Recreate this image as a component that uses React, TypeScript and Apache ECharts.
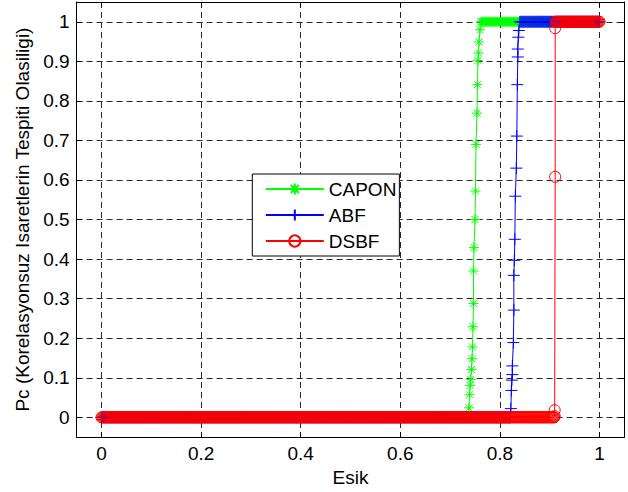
import React, { useEffect, useRef } from "react";
import * as echarts from "echarts";

// ---- data ----
const seriesNames = ["CAPON", "ABF", "DSBF"];
const seriesColors = ["#00ff00", "#0000ff", "#ff0000"];

const xTicks = [0, 0.2, 0.4, 0.6, 0.8, 1];
const yTicks = [0, 0.1, 0.2, 0.3, 0.4, 0.5, 0.6, 0.7, 0.8, 0.9, 1];

// threshold sweep step (x spacing of the flat plateaus at Pc = 0 and Pc = 1)
const sweepStep = 0.002;
const plateauLow = 0;
const plateauHigh = 1;
const sweepEnd = 1;

// rising parts (threshold, Pc)
const caponRiseX = [0.737, 0.738, 0.739, 0.740, 0.741, 0.743, 0.744, 0.745, 0.746, 0.747, 0.747, 0.748, 0.750, 0.751, 0.752, 0.754, 0.755, 0.756, 0.757, 0.758, 0.760, 0.762];
const caponRiseY = [0, 0.024, 0.057, 0.081, 0.096, 0.121, 0.148, 0.178, 0.229, 0.288, 0.370, 0.429, 0.500, 0.572, 0.690, 0.769, 0.841, 0.902, 0.921, 0.949, 0.980, 1];

const abfRiseX = [0.821, 0.822, 0.823, 0.824, 0.825, 0.825, 0.827, 0.828, 0.828, 0.829, 0.830, 0.831, 0.833, 0.834, 0.835, 0.836, 0.836, 0.837, 0.838, 0.840];
const abfRiseY = [0, 0.022, 0.068, 0.094, 0.108, 0.130, 0.189, 0.271, 0.359, 0.397, 0.450, 0.559, 0.630, 0.711, 0.841, 0.911, 0.931, 0.961, 0.978, 1];

const dsbfRiseX = [0.909, 0.910, 0.910, 0.911, 0.911, 0.912];
const dsbfRiseY = [0, 0.003, 0.018, 0.608, 0.984, 1];

function buildCurve(riseX: number[], riseY: number[]): number[][] {
  const pts: number[][] = [];
  const start = riseX[0];
  const end = riseX[riseX.length - 1];
  for (let i = 0; i * sweepStep < start - 1e-9; i++) {
    pts.push([+(i * sweepStep).toFixed(4), plateauLow]);
  }
  riseX.forEach((x, k) => pts.push([x, riseY[k]]));
  for (let i = Math.floor(end / sweepStep) + 1; i * sweepStep <= sweepEnd + 1e-9; i++) {
    pts.push([+(i * sweepStep).toFixed(4), plateauHigh]);
  }
  return pts;
}

const caponData = buildCurve(caponRiseX, caponRiseY);
const abfData = buildCurve(abfRiseX, abfRiseY);
const dsbfData = buildCurve(dsbfRiseX, dsbfRiseY);

const asteriskSymbol =
  "path://M0,5L10,5M5,0L5,10M1.5,1.5L8.5,8.5M1.5,8.5L8.5,1.5";
const plusSymbol = "path://M0,5L10,5M5,0L5,10";

const FONT = "'Liberation Sans', Arial, Helvetica, sans-serif";
const FS = 19;

export default function App() {
  const ref = useRef<HTMLDivElement>(null);

  useEffect(() => {
    if (!ref.current) return;
    const chart = echarts.init(ref.current, undefined, { renderer: "svg" });

    const axisCommon = {
      axisLine: { show: true, onZero: false, lineStyle: { color: "#000", width: 1 } },
    };

    const gridLine = {
      show: true,
      lineStyle: { color: "#262626", width: 1, type: [6, 4] as any },
    };

    const option: any = {
      animation: false,
      backgroundColor: "#ffffff",
      textStyle: { fontFamily: FONT },
      grid: { left: 76.6, right: 3.6, top: 2, bottom: 54.7, containLabel: false },
      legend: {
        data: seriesNames,
        orient: "vertical",
        left: 252.3,
        top: 174,
        itemWidth: 58,
        itemHeight: 14,
        itemGap: 7,
        padding: [5.5, 3, 5.5, 12.5],
        backgroundColor: "#ffffff",
        borderColor: "#000",
        borderWidth: 1,
        borderRadius: 0,
        textStyle: { fontSize: FS, color: "#000", fontFamily: FONT },
        selectedMode: false,
      },
      xAxis: [
        {
          type: "value",
          min: -0.05,
          max: 1.05,
          position: "bottom",
          name: "Esik",
          nameLocation: "middle",
          nameGap: 30,
          nameTextStyle: { fontSize: FS, color: "#000", fontFamily: FONT },
          ...axisCommon,
          axisTick: { show: true, inside: true, length: 5, customValues: xTicks, lineStyle: { color: "#000" } },
          axisLabel: {
            show: true,
            customValues: xTicks,
            margin: 7,
            fontSize: FS,
            color: "#000",
            fontFamily: FONT,
            formatter: (v: number) => String(Math.round(v * 10) / 10),
          },
          splitLine: gridLine,
        },
        {
          type: "value",
          min: -0.05,
          max: 1.05,
          position: "top",
          ...axisCommon,
          axisTick: { show: true, inside: true, length: 5, customValues: xTicks, lineStyle: { color: "#000" } },
          axisLabel: { show: false },
          splitLine: { show: false },
        },
      ],
      yAxis: [
        {
          type: "value",
          min: -0.05,
          max: 1.05,
          position: "left",
          name: "Pc (Korelasyonsuz Isaretlerin Tespiti Olasiligi)",
          nameLocation: "middle",
          nameGap: 42,
          nameRotate: 90,
          nameTextStyle: { fontSize: FS, color: "#000", fontFamily: FONT },
          ...axisCommon,
          axisTick: { show: true, inside: true, length: 5, customValues: yTicks, lineStyle: { color: "#000" } },
          axisLabel: {
            show: true,
            customValues: yTicks,
            margin: 7,
            fontSize: FS,
            color: "#000",
            fontFamily: FONT,
            formatter: (v: number) => String(Math.round(v * 10) / 10),
          },
          splitLine: gridLine,
        },
        {
          type: "value",
          min: -0.05,
          max: 1.05,
          position: "right",
          ...axisCommon,
          axisTick: { show: true, inside: true, length: 5, customValues: yTicks, lineStyle: { color: "#000" } },
          axisLabel: { show: false },
          splitLine: { show: false },
        },
      ],
      series: [
        {
          name: seriesNames[0],
          type: "line",
          data: caponData,
          xAxisIndex: 0,
          yAxisIndex: 0,
          symbol: asteriskSymbol,
          symbolSize: 10,
          showAllSymbol: true,
          lineStyle: { color: seriesColors[0], width: 1 },
          itemStyle: { color: seriesColors[0], borderColor: seriesColors[0], borderWidth: 1 },
          emphasis: { disabled: true },
        },
        {
          name: seriesNames[1],
          type: "line",
          data: abfData,
          xAxisIndex: 0,
          yAxisIndex: 0,
          symbol: plusSymbol,
          symbolSize: 12,
          showAllSymbol: true,
          lineStyle: { color: seriesColors[1], width: 1 },
          itemStyle: { color: seriesColors[1], borderColor: seriesColors[1], borderWidth: 1 },
          emphasis: { disabled: true },
        },
        {
          name: seriesNames[2],
          type: "line",
          data: dsbfData,
          xAxisIndex: 0,
          yAxisIndex: 0,
          symbol: "circle",
          symbolSize: 11,
          showAllSymbol: true,
          lineStyle: { color: seriesColors[2], width: 1 },
          itemStyle: { color: "rgba(255,255,255,0)", borderColor: seriesColors[2], borderWidth: 1 },
          emphasis: { disabled: true },
        },
      ],
    };

    chart.setOption(option);
    return () => chart.dispose();
  }, []);

  return (
    <div
      ref={ref}
      style={{ position: "absolute", left: 0, top: 0, width: 628, height: 492, background: "#fff" }}
    />
  );
}
